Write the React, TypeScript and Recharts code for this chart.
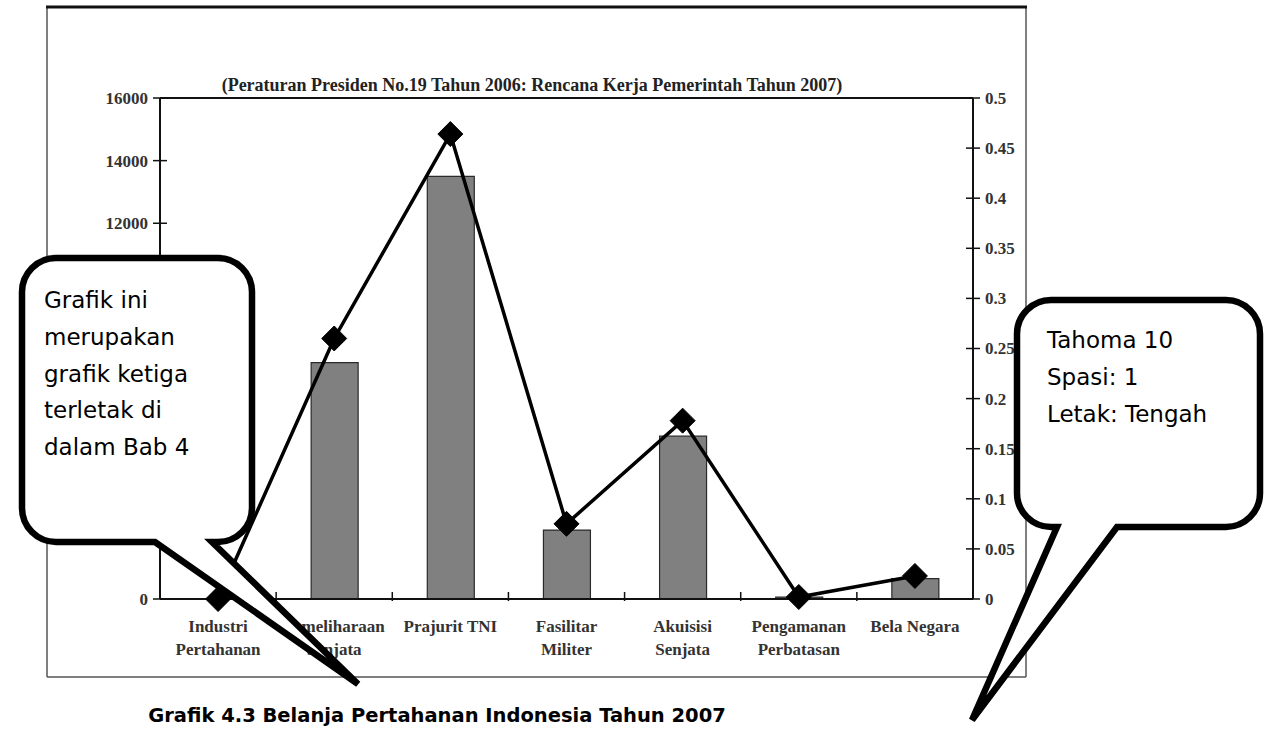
import React from 'react';
import { ComposedChart, Bar, Line, XAxis, YAxis, ReferenceLine } from 'recharts';

// ---- data ----
const categories = [
  'Industri\nPertahanan',
  'Pemeliharaan\nSenjata',
  'Prajurit TNI',
  'Fasilitar\nMiliter',
  'Akuisisi\nSenjata',
  'Pengamanan\nPerbatasan',
  'Bela Negara',
];
const belanja = [0, 7550, 13500, 2200, 5200, 60, 650];
const proporsi = [0, 0.26, 0.464, 0.075, 0.178, 0.002, 0.023];
const leftTicks = [0, 2000, 4000, 6000, 8000, 10000, 12000, 14000, 16000];
const rightTicks = [0, 0.05, 0.1, 0.15, 0.2, 0.25, 0.3, 0.35, 0.4, 0.45, 0.5];

const titleText = '(Peraturan Presiden No.19 Tahun 2006: Rencana Kerja Pemerintah Tahun 2007)';
const captionText = 'Grafik 4.3 Belanja Pertahanan Indonesia Tahun 2007';
const leftNote = ['Grafik ini', 'merupakan', 'grafik ketiga', 'terletak di', 'dalam Bab 4'];
const rightNote = ['Tahoma 10', 'Spasi: 1', 'Letak: Tengah'];

const data = categories.map((name, i) => ({ name, belanja: belanja[i], proporsi: proporsi[i] }));

// ---- layout ----
const W = 1266;
const H = 732;
const PLOT_L = 160;
const PLOT_R = 973;
const PLOT_T = 98;
const PLOT_B = 599;
const PLOT_W = PLOT_R - PLOT_L;
const AXIS_W = 60;
const AXIS_H = 70;

// left callout box (covers part of the left axis, as in the reference)
const LC = { x0: 22, y0: 258, x1: 252, y1: 542 };
const RC = { x0: 1017, y0: 300, x1: 1260, y1: 527 };

const SERIF = "'Liberation Serif', 'Times New Roman', serif";
const SANS = "'DejaVu Sans', Verdana, sans-serif";

const XTick = (props: any) => {
  const { x, y, payload, index } = props;
  const lines = String(payload.value).split('\n');
  const band = PLOT_W / categories.length;
  return (
    <g>
      {index > 0 && (
        <line x1={x - band / 2} x2={x - band / 2} y1={y - 7} y2={y + 2} stroke="#111" strokeWidth={1.5} />
      )}
      <text x={x} y={y + 33} textAnchor="middle" fontFamily={SERIF} fontSize={17} fontWeight="bold" fill="#333">
        {lines.map((l, i) => (
          <tspan key={i} x={x} dy={i === 0 ? 0 : 23}>
            {l}
          </tspan>
        ))}
      </text>
    </g>
  );
};

const LTick = (props: any) => {
  const { x, y, payload } = props;
  const hidden = y > LC.y0 - 8 && y < LC.y1 + 8; // covered by the callout in the reference
  if (hidden) return <g />;
  return (
    <g>
      <line x1={x - 7} x2={x + 7} y1={y} y2={y} stroke="#111" strokeWidth={1.5} />
      <text x={x - 12} y={y} dy="0.35em" textAnchor="end" fontFamily={SERIF} fontSize={17} fontWeight="bold" fill="#333">
        {payload.value}
      </text>
    </g>
  );
};

const RTick = (props: any) => {
  const { x, y, payload } = props;
  return (
    <g>
      <line x1={x - 7} x2={x + 7} y1={y} y2={y} stroke="#111" strokeWidth={1.5} />
      <text x={x + 12} y={y} dy="0.35em" textAnchor="start" fontFamily={SERIF} fontSize={17} fontWeight="bold" fill="#333">
        {String(payload.value)}
      </text>
    </g>
  );
};

const Diamond = (props: any) => {
  const { cx, cy } = props;
  if (cx == null || cy == null) return null;
  const s = 12.5;
  return <polygon points={`${cx},${cy - s} ${cx + s},${cy} ${cx},${cy + s} ${cx - s},${cy}`} fill="#000" stroke="#000" strokeWidth={1} />;
};

function calloutPath(b: { x0: number; y0: number; x1: number; y1: number }, r: number, xa: number, xb: number, tx: number, ty: number) {
  const { x0, y0, x1, y1 } = b;
  return [
    `M ${x0 + r} ${y0}`,
    `H ${x1 - r}`,
    `A ${r} ${r} 0 0 1 ${x1} ${y0 + r}`,
    `V ${y1 - r}`,
    `A ${r} ${r} 0 0 1 ${x1 - r} ${y1}`,
    `H ${xb}`,
    `L ${tx} ${ty}`,
    `L ${xa} ${y1}`,
    `H ${x0 + r}`,
    `A ${r} ${r} 0 0 1 ${x0} ${y1 - r}`,
    `V ${y0 + r}`,
    `A ${r} ${r} 0 0 1 ${x0 + r} ${y0}`,
    'Z',
  ].join(' ');
}

export default function App() {
  return (
    <div style={{ position: 'absolute', left: 0, top: 0, width: W, height: H, background: '#fff' }}>
      {/* frame */}
      <svg width={W} height={H} style={{ position: 'absolute', left: 0, top: 0 }}>
        <line x1={47} y1={677} x2={1026} y2={677} stroke="#555" strokeWidth={1.5} />
        <line x1={47} y1={7} x2={47} y2={677} stroke="#555" strokeWidth={1.5} />
        <line x1={1026} y1={7} x2={1026} y2={677} stroke="#555" strokeWidth={1.5} />
        <line x1={46} y1={7} x2={1027} y2={7} stroke="#111" strokeWidth={3} />
      </svg>
      <div style={{ position: 'absolute', left: 0, top: 0 }}>
        <ComposedChart
          width={W}
          height={H}
          data={data}
          margin={{ top: PLOT_T, left: PLOT_L - AXIS_W, right: W - PLOT_R - AXIS_W, bottom: H - PLOT_B - AXIS_H }}
          barCategoryGap={0}
        >
          <XAxis
            dataKey="name"
            height={AXIS_H}
            interval={0}
            tickSize={0}
            tickMargin={0}
            tickLine={false}
            axisLine={{ stroke: '#111', strokeWidth: 2 }}
            tick={<XTick />}
          />
          <YAxis
            yAxisId="l"
            orientation="left"
            width={AXIS_W}
            domain={[0, 16000]}
            ticks={leftTicks}
            interval={0}
            tickSize={0}
            tickMargin={0}
            tickLine={false}
            axisLine={{ stroke: '#111', strokeWidth: 2 }}
            tick={<LTick />}
          />
          <YAxis
            yAxisId="r"
            orientation="right"
            width={AXIS_W}
            domain={[0, 0.5]}
            ticks={rightTicks}
            interval={0}
            tickSize={0}
            tickMargin={0}
            tickLine={false}
            axisLine={{ stroke: '#111', strokeWidth: 2 }}
            tick={<RTick />}
          />
          <ReferenceLine yAxisId="l" y={16000} stroke="#111" strokeWidth={2} />
          <Bar yAxisId="l" dataKey="belanja" barSize={47} fill="#808080" stroke="#2a2a2a" strokeWidth={1.2} isAnimationActive={false} />
          <Line
            yAxisId="r"
            dataKey="proporsi"
            type="linear"
            stroke="#000"
            strokeWidth={3.5}
            dot={<Diamond />}
            activeDot={false}
            isAnimationActive={false}
          />
        </ComposedChart>
      </div>
      {/* overlay: title, callouts, caption */}
      <svg width={W} height={H} style={{ position: 'absolute', left: 0, top: 0 }}>
        <text x={532} y={91} textAnchor="middle" fontFamily={SERIF} fontSize={18} fontWeight="bold" fill="#222">
          {titleText}
        </text>
        <path d={calloutPath(LC, 34, 155, 212, 358, 684)} fill="#fff" stroke="#000" strokeWidth={6.5} strokeLinejoin="miter" />
        <text fontFamily={SANS} fontSize={23} fill="#000">
          {leftNote.map((l, i) => (
            <tspan key={i} x={44} y={308 + i * 36.8}>
              {l}
            </tspan>
          ))}
        </text>
        <path d={calloutPath(RC, 34, 1057, 1117, 972, 720)} fill="#fff" stroke="#000" strokeWidth={6.5} strokeLinejoin="miter" />
        <text fontFamily={SANS} fontSize={23} fill="#000">
          {rightNote.map((l, i) => (
            <tspan key={i} x={1047} y={348 + i * 37}>
              {l}
            </tspan>
          ))}
        </text>
        <text x={437} y={722} textAnchor="middle" fontFamily={SANS} fontSize={19.5} fontWeight="bold" fill="#000">
          {captionText}
        </text>
      </svg>
    </div>
  );
}
